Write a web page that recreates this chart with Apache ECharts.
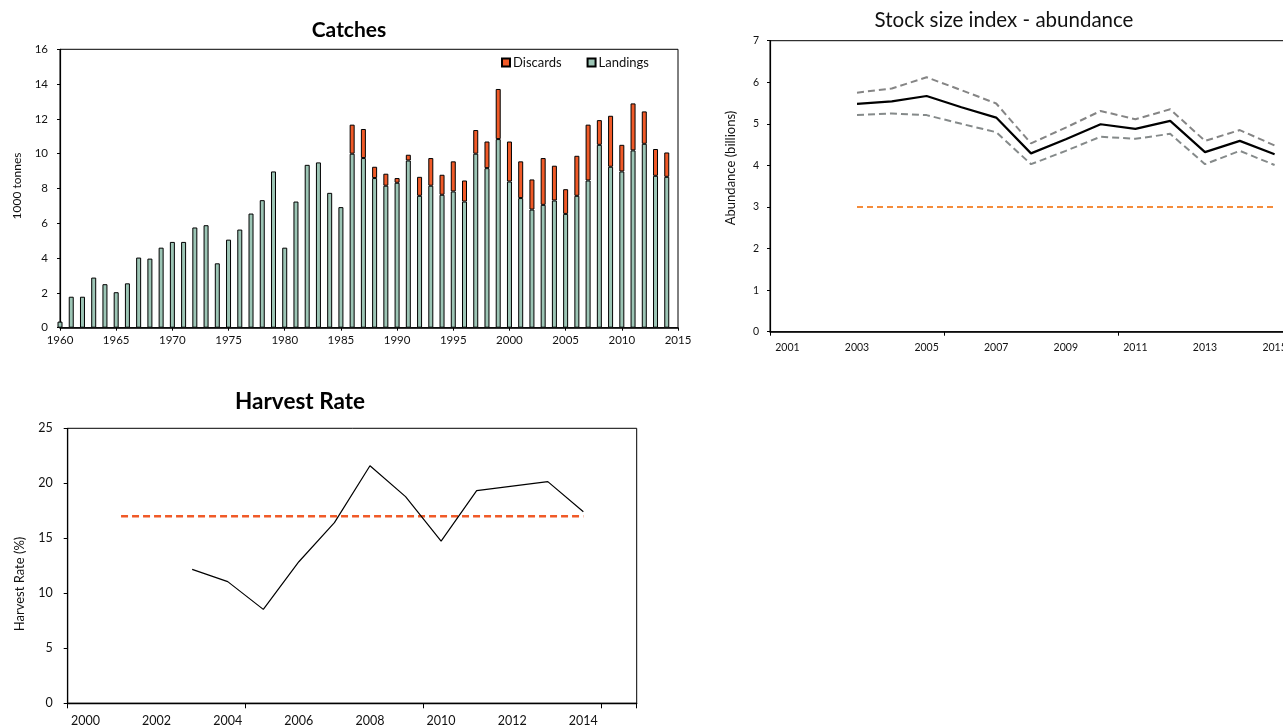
<!DOCTYPE html>
<html>
<head>
<meta charset="utf-8">
<script src="https://cdn.jsdelivr.net/npm/echarts@6/dist/echarts.min.js"></script>
<style>html,body{margin:0;padding:0;background:#fff}#c{width:1283px;height:728px}</style>
</head>
<body>
<div id="c"></div>
<script>
// ---- Catches (1000 tonnes) ----
const catchYears = ['1960','1961','1962','1963','1964','1965','1966','1967','1968','1969','1970','1971','1972','1973','1974','1975','1976','1977','1978','1979','1980','1981','1982','1983','1984','1985','1986','1987','1988','1989','1990','1991','1992','1993','1994','1995','1996','1997','1998','1999','2000','2001','2002','2003','2004','2005','2006','2007','2008','2009','2010','2011','2012','2013','2014','2015'];
const landings = [0.35,1.78,1.78,2.88,2.5,2.04,2.55,4.03,3.97,4.6,4.93,4.93,5.76,5.89,3.7,5.06,5.64,6.56,7.33,8.98,4.6,7.25,9.36,9.5,7.75,6.93,10.0,9.75,8.6,8.16,8.33,9.61,7.58,8.16,7.64,7.83,7.25,10.0,9.17,10.84,8.4,7.45,6.79,7.06,7.31,6.54,7.58,8.46,10.51,9.25,8.98,10.19,10.57,8.73,8.67,null];
const discards = [null,null,null,null,null,null,null,null,null,null,null,null,null,null,null,null,null,null,null,null,null,null,null,null,null,null,1.67,1.67,0.65,0.69,0.27,0.33,1.09,1.59,1.15,1.73,1.21,1.36,1.53,2.88,2.3,2.11,1.73,2.69,2.0,1.42,2.3,3.21,1.42,2.93,1.53,2.7,1.86,1.54,1.4,null];

// ---- Stock size index (billions) ----
const stockYears = ['2001','2002','2003','2004','2005','2006','2007','2008','2009','2010','2011','2012','2013','2014','2015'];
const abundance  = [null,null,5.48,5.54,5.67,5.40,5.15,4.29,4.63,4.99,4.88,5.07,4.32,4.59,4.27];
const abundUpper = [null,null,5.75,5.85,6.12,5.81,5.49,4.53,4.91,5.31,5.11,5.35,4.59,4.85,4.48];
const abundLower = [null,null,5.21,5.25,5.21,5.00,4.80,4.03,4.35,4.69,4.64,4.76,4.03,4.35,4.01];
const abundRefLevel = 3;
const abundRefSpan = ['2003','2015'];

// ---- Harvest rate (%) ----
const harvestYears = ['2000','2001','2002','2003','2004','2005','2006','2007','2008','2009','2010','2011','2012','2013','2014','2015'];
const harvestRate = [null,null,null,12.18,11.06,8.54,12.87,16.42,21.6,18.79,14.75,19.33,19.75,20.15,17.42,null];
const harvestRefLevel = 17;
const harvestRefSpan = ['2001','2014'];

function spanLine(years, level, span) {
  const a = years.indexOf(span[0]), b = years.indexOf(span[1]);
  return years.map((y, i) => (i >= a && i <= b) ? level : null);
}

const FONT = 'Lato, "Open Sans", sans-serif';
const chart = echarts.init(document.getElementById('c'));

const blackAxis = w => ({ show: true, lineStyle: { color: '#000', width: w } });
const label = (size, margin, extra) => Object.assign({ color: '#111', fontSize: size, fontFamily: FONT, margin: margin }, extra || {});
const txt = (x, y, text, size, bold, rot) => ({
  type: 'text', x: x, y: y, rotation: rot ? Math.PI / 2 : 0,
  style: { text: text, fontSize: size, fontWeight: bold ? 'bold' : 'normal', fontFamily: FONT, fill: bold ? '#000' : '#111',
           align: 'center', verticalAlign: 'middle', textAlign: 'center', textVerticalAlign: 'middle' }
});

chart.setOption({
  animation: false,
  backgroundColor: '#fff',
  textStyle: { fontFamily: FONT },
  graphic: [
    txt(349, 30, 'Catches', 21, true),
    txt(1004, 20, 'Stock size index - abundance', 20.5, false),
    txt(300, 402, 'Harvest Rate', 22.5, true),
    txt(17, 186, '1000 tonnes', 12, false, true),
    txt(731, 168, 'Abundance (billions)', 13, false, true),
    txt(20, 584, 'Harvest Rate (%)', 13, false, true)
  ],
  legend: {
    data: ['Discards', 'Landings'],
    left: 501, top: 56, padding: 0,
    icon: 'rect', itemWidth: 8, itemHeight: 8, itemGap: 25,
    textStyle: { fontSize: 13, fontFamily: FONT, color: '#111', padding: [0, 0, 0, -2] }
  },
  grid: [
    { left: 60, top: 49.3, width: 618, height: 278.4, show: true, borderColor: '#000', borderWidth: 1, outerBoundsMode: 'none' },
    { left: 770, top: 40.7, width: 522, height: 291, show: true, borderColor: '#000', borderWidth: 1, outerBoundsMode: 'none' },
    { left: 67.7, top: 428.3, width: 569, height: 275, show: true, borderColor: '#000', borderWidth: 1, outerBoundsMode: 'none' }
  ],
  xAxis: [
    { gridIndex: 0, type: 'category', data: catchYears, boundaryGap: false,
      axisLine: blackAxis(1.6), axisTick: { show: true, interval: 4, length: 3, lineStyle: { color: '#000' } },
      axisLabel: label(11.5, 7, { interval: 4 }), splitLine: { show: false } },
    { gridIndex: 1, type: 'category', data: stockYears, boundaryGap: true,
      axisLine: blackAxis(1.5), axisTick: { show: true, interval: 4, length: 4, lineStyle: { color: '#000' } },
      axisLabel: label(10.5, 10, { interval: 1 }), splitLine: { show: false } },
    { gridIndex: 2, type: 'category', data: harvestYears, boundaryGap: true,
      axisLine: blackAxis(1.4), axisTick: { show: true, interval: 4, length: 5, lineStyle: { color: '#000' } },
      axisLabel: label(12.5, 11, { interval: 1 }), splitLine: { show: false } }
  ],
  yAxis: [
    { gridIndex: 0, type: 'value', min: 0, max: 16, interval: 2,
      axisLine: blackAxis(1.2), axisTick: { show: true, length: 3, lineStyle: { color: '#000' } },
      axisLabel: label(11.5, 12), splitLine: { show: false } },
    { gridIndex: 1, type: 'value', min: 0, max: 7, interval: 1,
      axisLine: blackAxis(1.2), axisTick: { show: true, length: 3, lineStyle: { color: '#000' } },
      axisLabel: label(10.5, 11), splitLine: { show: false } },
    { gridIndex: 2, type: 'value', min: 0, max: 25, interval: 5,
      axisLine: blackAxis(1.2), axisTick: { show: true, length: 4, lineStyle: { color: '#000' } },
      axisLabel: label(12.5, 15), splitLine: { show: false } }
  ],
  series: [
    { name: 'Landings', type: 'bar', xAxisIndex: 0, yAxisIndex: 0, stack: 'catch', barWidth: 5,
      data: landings,
      itemStyle: { color: '#9cc5b5', borderColor: '#000', borderWidth: 1 } },
    { name: 'Discards', type: 'bar', xAxisIndex: 0, yAxisIndex: 0, stack: 'catch', barWidth: 5,
      data: discards,
      itemStyle: { color: '#f05a28', borderColor: '#000', borderWidth: 1 } },

    { type: 'line', xAxisIndex: 1, yAxisIndex: 1, showSymbol: false, data: spanLine(stockYears, abundRefLevel, abundRefSpan),
      lineStyle: { color: '#f58c3b', width: 2, type: [6, 4] } },
    { type: 'line', xAxisIndex: 1, yAxisIndex: 1, showSymbol: false, data: abundUpper,
      lineStyle: { color: '#858585', width: 2, type: [7, 4] } },
    { type: 'line', xAxisIndex: 1, yAxisIndex: 1, showSymbol: false, data: abundLower,
      lineStyle: { color: '#858a8a', width: 2, type: [7, 4] } },
    { type: 'line', xAxisIndex: 1, yAxisIndex: 1, showSymbol: false, data: abundance,
      lineStyle: { color: '#000', width: 2.2 } },

    { type: 'line', xAxisIndex: 2, yAxisIndex: 2, showSymbol: false, data: spanLine(harvestYears, harvestRefLevel, harvestRefSpan),
      lineStyle: { color: '#f05a28', width: 2.5, type: [7, 4] } },
    { type: 'line', xAxisIndex: 2, yAxisIndex: 2, showSymbol: false, data: harvestRate,
      lineStyle: { color: '#000', width: 1.2 } }
  ]
});
</script>
</body>
</html>
